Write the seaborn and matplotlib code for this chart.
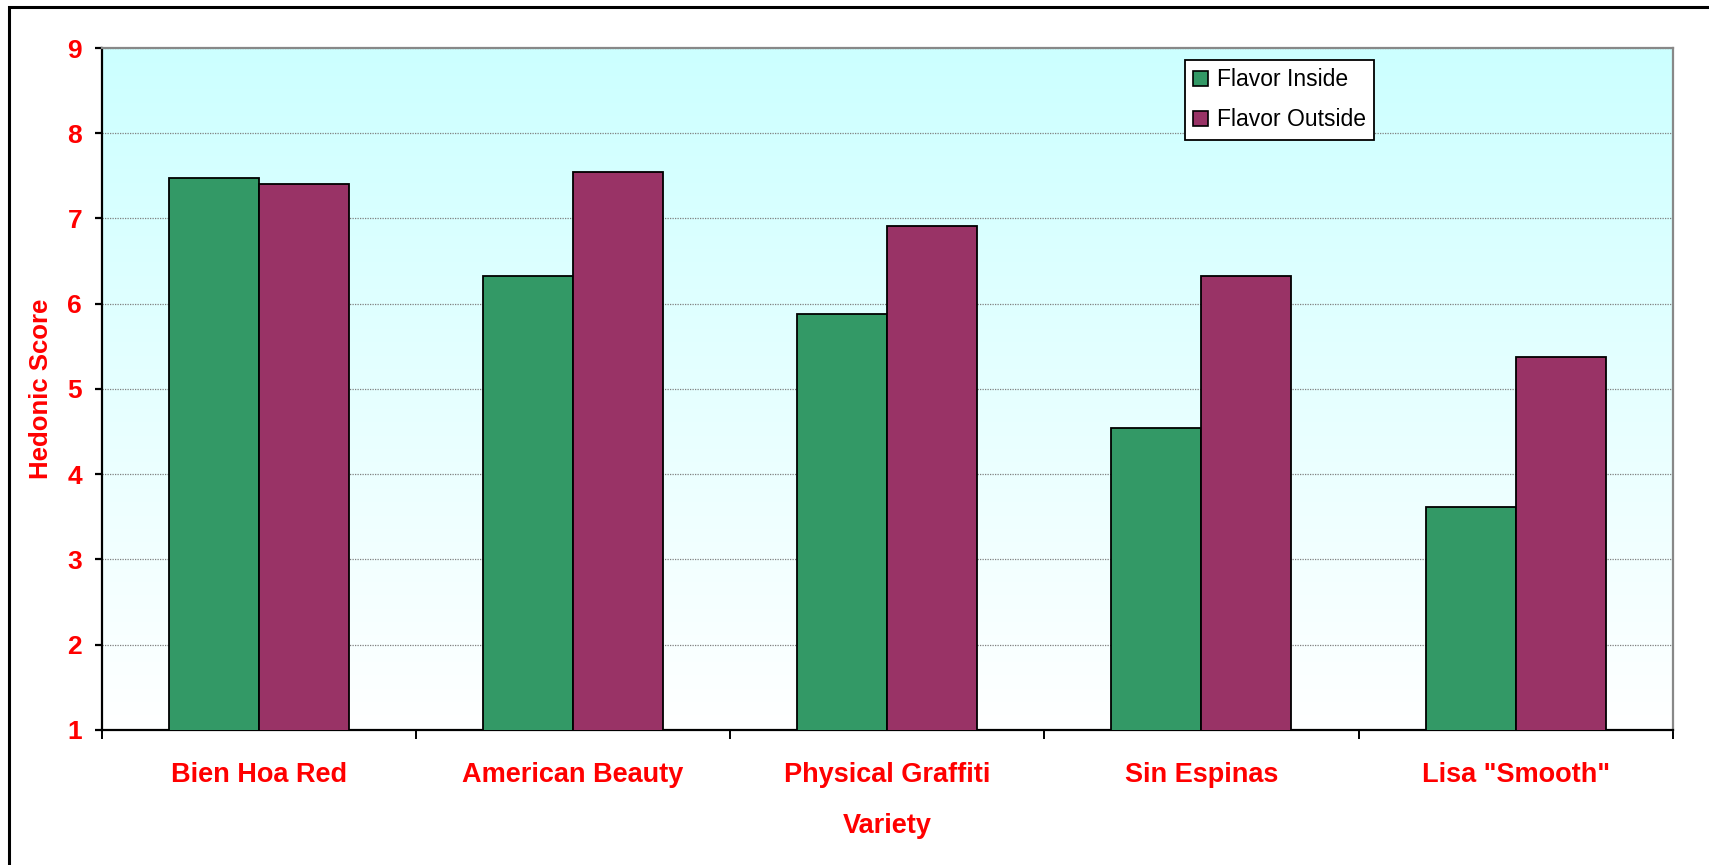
import numpy as np
import pandas as pd
import matplotlib
matplotlib.use("Agg")
import matplotlib.pyplot as plt
from matplotlib.patches import Rectangle
from matplotlib.colors import LinearSegmentedColormap
import seaborn as sns

varieties = ["Bien Hoa Red", "American Beauty", "Physical Graffiti", "Sin Espinas", 'Lisa "Smooth"']
flavor_inside = [7.47, 6.33, 5.88, 4.54, 3.61]
flavor_outside = [7.41, 7.54, 6.91, 6.33, 5.38]
series_names = ["Flavor Inside", "Flavor Outside"]
series_colors = ["#339966", "#993366"]
y_ticks = [1, 2, 3, 4, 5, 6, 7, 8, 9]

df = pd.DataFrame({
    "Variety": varieties * 2,
    "Score": flavor_inside + flavor_outside,
    "Series": [series_names[0]] * len(varieties) + [series_names[1]] * len(varieties),
})

sns.set_theme(style="white")
plt.rcParams["font.family"] = ["Liberation Sans", "DejaVu Sans"]
plt.rcParams["text.color"] = "black"

fig = plt.figure(figsize=(17.09, 8.65), dpi=100)
ax = fig.add_axes([0.0595, 0.1561, 0.9193, 0.7884])

# outer chart frame
fig.patches.append(Rectangle((9 / 1709, -0.1), 1.2, 1 - 7 / 865 + 0.1,
                             transform=fig.transFigure, fill=False,
                             edgecolor="black", linewidth=2.2, zorder=0))

# gradient background of the plot area
cmap = LinearSegmentedColormap.from_list("bg", ["#FFFFFF", "#CCFFFF"])
grad = np.linspace(0, 1, 256).reshape(-1, 1)
ax.imshow(grad, extent=[-0.5, 4.5, 1, 9], origin="lower", aspect="auto",
          cmap=cmap, zorder=-2, interpolation="bicubic")

sns.barplot(data=df, x="Variety", y="Score", hue="Series", order=varieties,
            hue_order=series_names, palette=series_colors, width=0.573, gap=0,
            edgecolor="black", linewidth=1.3, saturation=1, ax=ax, zorder=3,
            errorbar=None)

ax.set_xlim(-0.5, 4.5)
ax.set_ylim(1, 9)
ax.set_yticks(y_ticks)
ax.set_axisbelow(True)
ax.yaxis.grid(True, linestyle=(0, (1, 1)), color="#808080", linewidth=0.9, zorder=1)
ax.xaxis.grid(False)

# spines
for s in ["left", "bottom"]:
    ax.spines[s].set_color("black")
    ax.spines[s].set_linewidth(1.6)
for s in ["top", "right"]:
    ax.spines[s].set_color("#888888")
    ax.spines[s].set_linewidth(1.6)

# ticks
ax.set_xticks(np.arange(-0.5, 5, 1), minor=True)
ax.tick_params(axis="x", which="major", length=0, pad=23, labelsize=19.5,
               labelcolor="red")
ax.tick_params(axis="x", which="minor", length=6.5, width=1.4, color="black",
               direction="out", bottom=True)
ax.tick_params(axis="y", which="major", length=5, width=1.6, color="black",
               direction="out", left=True, pad=9, labelsize=19, labelcolor="red")
for lab in ax.get_xticklabels() + ax.get_yticklabels():
    lab.set_fontweight("bold")

ax.set_xlabel("Variety", fontsize=19.5, fontweight="bold", color="red")
ax.set_ylabel("Hedonic Score", fontsize=18.5, fontweight="bold", color="red")
ax.xaxis.set_label_coords(0.5, -0.1408)
ax.xaxis.label.set_va("center")
ax.yaxis.set_label_coords(-0.0387, 0.5)
ax.yaxis.label.set_va("center")

leg = ax.legend(loc="upper left", bbox_to_anchor=(0.6896, 0.982), borderaxespad=0,
                fontsize=16.5, frameon=True, fancybox=False, shadow=False,
                handlelength=0.65, handleheight=0.65, handletextpad=0.4,
                labelspacing=0.75, borderpad=0.35, title=None)
leg.get_frame().set_edgecolor("black")
leg.get_frame().set_linewidth(1.3)
leg.get_frame().set_facecolor("white")
leg.get_frame().set_alpha(1)
for t in leg.get_texts():
    t.set_color("black")
for h in leg.legend_handles:
    h.set_edgecolor("black")
    h.set_linewidth(1.2)

fig.savefig("out.png", dpi=100)
